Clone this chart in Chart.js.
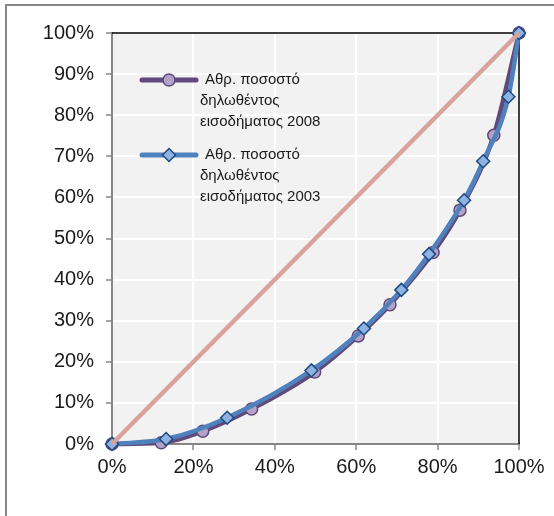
<!DOCTYPE html>
<html>
<head>
<meta charset="utf-8">
<script src="https://cdn.jsdelivr.net/npm/chart.js@4/dist/chart.umd.min.js"></script>
<style>
  html, body { margin: 0; padding: 0; background: #fff; }
  #wrap { width: 554px; height: 516px; }
</style>
</head>
<body>
<div id="wrap"><canvas id="chart" width="554" height="516"></canvas></div>
<script>
// cumulative % of tax units (x) vs cumulative % of declared income (y)
const x2008 = [0, 12.1, 22.3, 34.3, 49.8, 60.5, 68.3, 78.9, 85.5, 93.8, 100];
const y2008 = [0, 0.3, 3.1, 8.5, 17.5, 26.3, 33.9, 46.6, 56.9, 75.1, 100];
const x2003 = [0, 13.3, 28.3, 49.0, 61.9, 71.1, 77.9, 86.5, 91.2, 97.4, 100];
const y2003 = [0, 1.2, 6.4, 17.9, 28.1, 37.5, 46.2, 59.3, 68.8, 84.5, 100];
const xEqual = [0, 100];
const yEqual = [0, 100];

const label2008 = ['Αθρ. ποσοστό', 'δηλωθέντος', 'εισοδήματος 2008'];
const label2003 = ['Αθρ. ποσοστό', 'δηλωθέντος', 'εισοδήματος 2003'];

const FONT = '"Liberation Sans", Arial, sans-serif';
const C_PURPLE = '#604a7b', C_PURPLE_FILL = '#b3a2c7';
const C_BLUE = '#4f81bd', C_BLUE_FILL = '#8db3e2', C_BLUE_EDGE = '#1f497d';
const C_PINK = '#d9a39c';
const C_AXIS = '#868686';

const pts = (xs, ys) => xs.map((x, i) => ({ x: x, y: ys[i] }));

// plot background, outer frame, black top/right edges
const framePlugin = {
  id: 'frame',
  beforeDraw(chart) {
    const { ctx, chartArea: a } = chart;
    ctx.save();
    ctx.fillStyle = '#fff';
    ctx.fillRect(0, 0, chart.width, chart.height);
    ctx.strokeStyle = C_AXIS;
    ctx.lineWidth = 2;
    ctx.strokeRect(6, 5, 700, 700);
    ctx.fillStyle = '#f2f2f2';
    ctx.fillRect(a.left, a.top, a.right - a.left, a.bottom - a.top);
    ctx.restore();
  },
  beforeDatasetsDraw(chart) {
    const { ctx, chartArea: a } = chart;
    ctx.save();
    ctx.strokeStyle = '#000';
    ctx.lineWidth = 1.5;
    ctx.beginPath();
    ctx.moveTo(a.left, a.top);
    ctx.lineTo(a.right, a.top);
    ctx.lineTo(a.right, a.bottom);
    ctx.stroke();
    ctx.restore();
  }
};

// legend inside the plot area
const legendPlugin = {
  id: 'innerLegend',
  afterDraw(chart) {
    const ctx = chart.ctx;
    const items = [
      { y: 80, lines: label2008, color: C_PURPLE, fill: C_PURPLE_FILL, edge: C_PURPLE, style: 'circle', r: 6 },
      { y: 155, lines: label2003, color: C_BLUE, fill: C_BLUE_FILL, edge: C_BLUE_EDGE, style: 'rectRot', r: 6.5 }
    ];
    ctx.save();
    items.forEach(it => {
      ctx.strokeStyle = it.color;
      ctx.lineWidth = 5;
      ctx.lineCap = 'round';
      ctx.beginPath();
      ctx.moveTo(142, it.y);
      ctx.lineTo(196, it.y);
      ctx.stroke();
      ctx.lineCap = 'butt';
      ctx.fillStyle = it.fill;
      ctx.strokeStyle = it.edge;
      ctx.lineWidth = 1.5;
      Chart.helpers.drawPoint(ctx, { pointStyle: it.style, rotation: 0, radius: it.r, borderWidth: 1.5 }, 169, it.y);
      ctx.font = '15px ' + FONT;
      ctx.fillStyle = '#1a1a1a';
      ctx.textBaseline = 'middle';
      ctx.textAlign = 'left';
      it.lines.forEach((t, i) => {
        ctx.fillText(t, i === 0 ? 205 : 200, it.y + i * 21);
      });
    });
    ctx.restore();
  }
};

new Chart(document.getElementById('chart'), {
  type: 'scatter',
  data: {
    datasets: [
      {
        label: 'Ισοκατανομή',
        data: pts(xEqual, yEqual),
        showLine: true,
        borderColor: C_PINK,
        borderWidth: 4.5,
        pointRadius: 0,
        order: 0,
        clip: false
      },
      {
        label: label2003.join(' '),
        data: pts(x2003, y2003),
        showLine: true,
        borderColor: C_BLUE,
        borderWidth: 4.5,
        cubicInterpolationMode: 'monotone',
        pointStyle: 'rectRot',
        pointRadius: 6.5,
        pointBackgroundColor: C_BLUE_FILL,
        pointBorderColor: C_BLUE_EDGE,
        pointBorderWidth: 1.5,
        order: 1,
        clip: false
      },
      {
        label: label2008.join(' '),
        data: pts(x2008, y2008),
        showLine: true,
        borderColor: C_PURPLE,
        borderWidth: 4.5,
        cubicInterpolationMode: 'monotone',
        pointStyle: 'circle',
        pointRadius: 6,
        pointBackgroundColor: C_PURPLE_FILL,
        pointBorderColor: C_PURPLE,
        pointBorderWidth: 1.5,
        order: 2,
        clip: false
      }
    ]
  },
  options: {
    responsive: false,
    animation: false,
    layout: { padding: { top: 33, right: 35, left: 0, bottom: 0 } },
    plugins: { legend: { display: false }, tooltip: { enabled: false } },
    scales: {
      x: {
        type: 'linear', min: 0, max: 100,
        afterFit: s => { s.height = 72; },
        border: { color: C_AXIS, width: 2 },
        grid: { color: '#fff', lineWidth: 2, tickColor: C_AXIS, tickLength: 6, tickWidth: 1.5 },
        ticks: {
          stepSize: 20, padding: 5, color: '#1a1a1a',
          font: { family: FONT, size: 20 },
          callback: v => v + '%'
        }
      },
      y: {
        type: 'linear', min: 0, max: 100,
        afterFit: s => { s.width = 112; },
        border: { color: C_AXIS, width: 2 },
        grid: { color: '#fff', lineWidth: 2, tickColor: C_AXIS, tickLength: 6, tickWidth: 1.5 },
        ticks: {
          stepSize: 10, padding: 12, color: '#1a1a1a',
          font: { family: FONT, size: 20 },
          callback: v => v + '%'
        }
      }
    }
  },
  plugins: [framePlugin, legendPlugin]
});
</script>
</body>
</html>
